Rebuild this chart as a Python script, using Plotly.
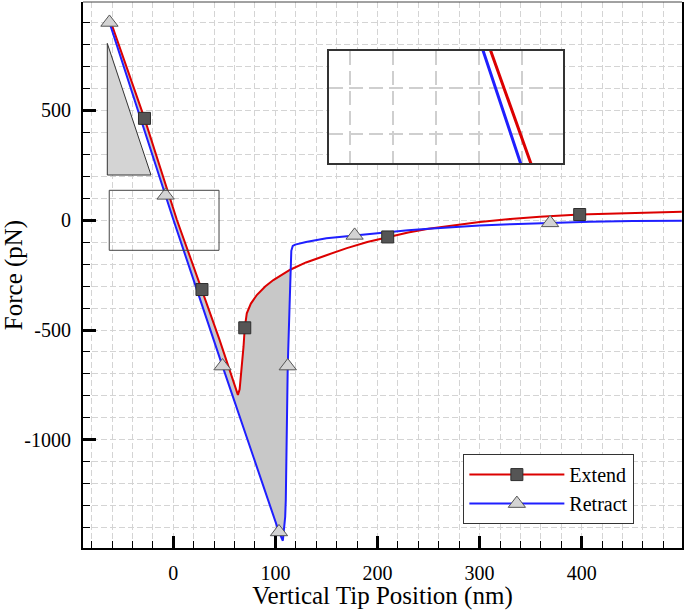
import numpy as np
import plotly.graph_objects as go

# ---------------- data ----------------
ext_x = [-60.5, -28.2, 3.6, 28.1, 45.0, 61.5, 63.3, 65.0, 66.5, 68.8, 70.0, 72.0, 76.0, 82.0,
         90.0, 98.0, 114.5, 130.0, 150.0, 170.0, 190.0, 210.0, 230.0, 250.0, 275.0, 300.0,
         330.0, 359.0, 398.0, 450.0, 498.0]
ext_y = [892, 462, 0, -316, -540, -770, -795, -770, -700, -576, -490, -424, -380, -340,
         -302, -273, -226, -193, -160, -128, -100, -77, -57, -40, -23, -9,
         5, 15, 25, 32, 37]

ret_x = [-62.5, -7.5, 0.2, 48.2, 103.5, 107.3, 109.6, 110.2, 112.1, 114.5, 115.2, 115.6,
         117.0, 119.4, 130.0, 150.0, 177.6, 202.0, 230.0, 250.0, 275.0, 300.0, 330.0,
         369.0, 408.0, 450.0, 498.0]
ret_y = [898, 112, 0, -664, -1418, -1458, -1349, -1273, -664, -300, -227, -140,
         -118, -112, -100, -83, -70, -58, -47, -40, -32, -25, -19,
         -13, -8, -5, -3]

# marker positions
ext_mx = [-28.2, 28.1, 70.0, 210.0, 398.0]
ext_my = [462, -316, -490, -77, 25]
ret_mx = [-62.5, -7.5, 48.2, 103.5, 112.1, 177.6, 369.0]
ret_my = [898, 112, -664, -1418, -664, -70, -13]

# x where the retract curve detaches (end of the hysteresis area)
detach_x = 115.2

# decorations
scale_tri_x = [-64.6, -64.6, -21.8, -64.6]
scale_tri_y = [803, 204.5, 204.5, 803]
zoom_box_x = [-62.7, 44.8]
zoom_box_y = [-137.7, 135]
inset_xrange = [-69.8, 39.0]
inset_yrange = [-262, -21]

x_range = [-88.4, 498.2]
y_range = [-1491, 991]
x_tickvals = [0, 100, 200, 300, 400]
y_tickvals = [-1000, -500, 0, 500]
y_ticktext = ["-1000", "-500", "0", "500"]

RED = "#dc0000"
BLUE = "#1f1fff"
FONT = "Liberation Serif"
GRID = "#d4d4d4"

# ---------------- figure ----------------
fig = go.Figure()

ex = np.array(ext_x); ey = np.array(ext_y)
rx = np.array(ret_x); ry = np.array(ret_y)
me = ex <= detach_x
mr = rx <= detach_x
fill_x = list(ex[me]) + list(rx[mr][::-1])
fill_y = list(ey[me]) + list(ry[mr][::-1])

fig.add_trace(go.Scatter(x=fill_x, y=fill_y, mode="lines", fill="toself",
                         fillcolor="#c8c8c8", line=dict(width=0), showlegend=False,
                         hoverinfo="skip"))
fig.add_trace(go.Scatter(x=scale_tri_x, y=scale_tri_y, mode="lines", fill="toself",
                         fillcolor="#d4d4d4", line=dict(color="#333333", width=1),
                         showlegend=False, hoverinfo="skip"))

fig.add_trace(go.Scatter(x=ext_x, y=ext_y, mode="lines", line=dict(color=RED, width=2),
                         showlegend=False))
fig.add_trace(go.Scatter(x=ret_x, y=ret_y, mode="lines", line=dict(color=BLUE, width=2),
                         showlegend=False))

sq = dict(symbol="square", size=12, color="#555555", line=dict(color="#2e2e2e", width=1))
tr = dict(symbol="triangle-up", size=15, color="#d3d3d3", line=dict(color="#555555", width=1))
fig.add_trace(go.Scatter(x=ext_mx, y=ext_my, mode="markers", marker=sq, showlegend=False))
fig.add_trace(go.Scatter(x=ret_mx, y=ret_my, mode="markers", marker=tr, showlegend=False))

# legend entries
fig.add_trace(go.Scatter(x=[None], y=[None], mode="lines+markers", name="Extend",
                         line=dict(color=RED, width=2), marker=sq))
fig.add_trace(go.Scatter(x=[None], y=[None], mode="lines+markers", name="Retract",
                         line=dict(color=BLUE, width=2), marker=tr))

# inset (magnified view)
fig.add_trace(go.Scatter(x=ext_x, y=ext_y, mode="lines", line=dict(color=RED, width=3),
                         xaxis="x2", yaxis="y2", showlegend=False))
fig.add_trace(go.Scatter(x=ret_x, y=ret_y, mode="lines", line=dict(color=BLUE, width=3),
                         xaxis="x2", yaxis="y2", showlegend=False))

minor_x = dict(dtick=20, tick0=0, ticks="inside", ticklen=7, tickwidth=1, tickcolor="black",
               showgrid=True, gridcolor=GRID, griddash="6px,3px", gridwidth=1)
minor_y = dict(dtick=100, tick0=0, ticks="inside", ticklen=7, tickwidth=1, tickcolor="black",
               showgrid=True, gridcolor=GRID, griddash="6px,3px", gridwidth=1)

fig.update_layout(
    width=685, height=610,
    margin=dict(l=83, r=3, t=2, b=62, autoexpand=False),
    paper_bgcolor="white", plot_bgcolor="white",
    font=dict(family=FONT, size=20, color="black"),
    xaxis=dict(range=x_range, tickmode="array", tickvals=x_tickvals,
               ticks="inside", ticklen=12, tickwidth=3, tickcolor="black",
               showline=True, linewidth=2, linecolor="black", mirror=False,
               showgrid=True, gridcolor=GRID, griddash="6px,3px", gridwidth=1,
               zeroline=False, minor=minor_x, ticklabelstandoff=6,
               title=dict(text="Vertical Tip Position (nm)", font=dict(size=25), standoff=6),
               automargin=False),
    yaxis=dict(range=y_range, tickmode="array", tickvals=y_tickvals, ticktext=y_ticktext,
               ticks="inside", ticklen=13, tickwidth=3, tickcolor="black",
               showline=True, linewidth=2, linecolor="black", mirror=True,
               showgrid=True, gridcolor=GRID, griddash="6px,3px", gridwidth=1,
               zeroline=False, minor=minor_y, ticklabelstandoff=6,
               title=dict(text="Force (pN)", font=dict(size=25), standoff=8),
               automargin=False),
    xaxis2=dict(domain=[0.4112, 0.8018], anchor="y2", range=inset_xrange,
                tickmode="linear", tick0=0, dtick=20, showticklabels=False, ticks="",
                showgrid=True, gridcolor="#cfcfcf", griddash="14px,6px", gridwidth=1.5,
                zeroline=False, showline=True, mirror=True, linecolor="#333333", linewidth=1.5),
    yaxis2=dict(domain=[0.7046, 0.9108], anchor="x2", range=inset_yrange,
                tickmode="linear", tick0=0, dtick=100, showticklabels=False, ticks="",
                showgrid=True, gridcolor="#cfcfcf", griddash="14px,6px", gridwidth=1.5,
                zeroline=False, showline=True, mirror=True, linecolor="#333333", linewidth=1.5),
    legend=dict(x=0.635, y=0.172, xanchor="left", yanchor="top",
                bgcolor="white", bordercolor="#333333", borderwidth=1,
                font=dict(family=FONT, size=20), tracegroupgap=0, itemwidth=95),
    shapes=[
        dict(type="rect", xref="x2", yref="y2", x0=inset_xrange[0], x1=inset_xrange[1],
             y0=inset_yrange[0], y1=inset_yrange[1], fillcolor="white",
             line=dict(width=0), layer="below"),
        dict(type="rect", xref="x", yref="y", x0=zoom_box_x[0], x1=zoom_box_x[1],
             y0=zoom_box_y[0], y1=zoom_box_y[1], line=dict(color="#444444", width=1),
             layer="above"),
        dict(type="line", xref="paper", yref="paper", x0=0, x1=1, y0=1, y1=1,
             line=dict(color="#444444", width=1), layer="above"),
    ],
)

fig.write_html("out.html", config={"displayModeBar": False},
               post_script="document.body.style.margin='0';")
